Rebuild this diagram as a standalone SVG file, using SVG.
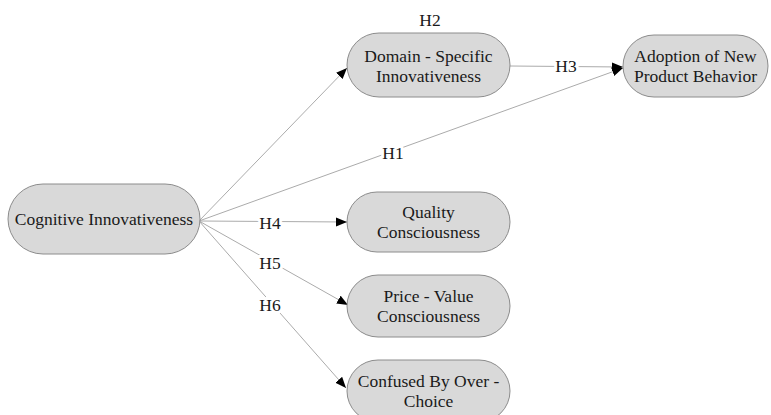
<svg xmlns="http://www.w3.org/2000/svg" width="771" height="415" viewBox="0 0 771 415">
<style>
.node rect{fill:#d9d9d9;stroke:#8c8c8c;stroke-width:1}
text{font-family:"Liberation Serif","Times New Roman",serif;font-size:17.5px;fill:#1a1a1a;text-anchor:middle}
.edge{stroke:#ababab;stroke-width:1;fill:none;marker-end:url(#arr)}
.lbl{stroke:#fff;stroke-width:6;paint-order:stroke;stroke-linejoin:round}
</style>
<defs>
<marker id="arr" markerUnits="userSpaceOnUse" markerWidth="12" markerHeight="10" refX="11" refY="4.5" orient="auto">
<path d="M0,0 L11,4.5 L0,9 Z" fill="#000"/>
</marker>
</defs>
<rect width="771" height="415" fill="#fff"/>
<g id="connectors">
<line class="edge" x1="199" y1="221" x2="347" y2="68"/>
<line class="edge" x1="510" y1="66" x2="623" y2="67"/>
<line class="edge" x1="199" y1="221" x2="623" y2="68"/>
<line class="edge" x1="199" y1="221" x2="347" y2="222"/>
<line class="edge" x1="199" y1="221" x2="348" y2="305"/>
<line class="edge" x1="199" y1="221" x2="346" y2="388"/>
<text x="430" y="26">H2</text>
<text class="lbl" x="566" y="72">H3</text>
<text class="lbl" x="393" y="159">H1</text>
<text class="lbl" x="270" y="229">H4</text>
<text class="lbl" x="270" y="269">H5</text>
<text class="lbl" x="270" y="311">H6</text>
</g>
<g id="cognitive" class="node">
<rect x="8" y="184" width="192" height="70" rx="35"/>
<text x="104" y="225">Cognitive Innovativeness</text>
</g>
<g id="domain" class="node">
<rect x="347" y="33" width="163" height="64" rx="32"/>
<text x="428.5" y="62">Domain - Specific</text>
<text x="428.5" y="82">Innovativeness</text>
</g>
<g id="adoption" class="node">
<rect x="623" y="35" width="145" height="62" rx="31"/>
<text x="695.5" y="62">Adoption of New</text>
<text x="695.5" y="82">Product Behavior</text>
</g>
<g id="quality" class="node">
<rect x="347" y="192" width="163" height="60" rx="30"/>
<text x="428.5" y="218">Quality</text>
<text x="428.5" y="238">Consciousness</text>
</g>
<g id="price" class="node">
<rect x="347" y="275" width="163" height="62" rx="31"/>
<text x="428.5" y="302">Price - Value</text>
<text x="428.5" y="322">Consciousness</text>
</g>
<g id="confused" class="node">
<rect x="347" y="360" width="163" height="62" rx="31"/>
<text x="428.5" y="387">Confused By Over -</text>
<text x="428.5" y="407">Choice</text>
</g>
</svg>
